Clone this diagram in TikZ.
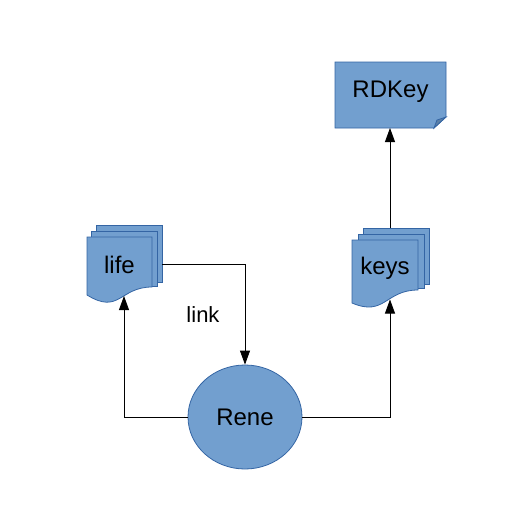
\documentclass[tikz,border=0pt]{standalone}
\usepackage{fontspec}
\setmainfont{Liberation Sans}
\usetikzlibrary{arrows.meta,shapes.geometric,calc}
\definecolor{shfill}{HTML}{729FCF}
\definecolor{shline}{HTML}{3465A4}
\definecolor{shfold}{HTML}{5B7FA6}
\begin{document}
\begin{tikzpicture}[x=1pt,y=-1pt,
  sheet/.style={fill=shfill, draw=shline, line width=0.8pt},
  conn/.style={draw=black, line width=0.8pt, -{Triangle[length=14pt,width=10pt]}},
  lbl/.style={font=\fontsize{24}{28}\selectfont, text=black}]
\useasboundingbox (0,0) rectangle (528,528);
% life multi-document
\path[sheet] (96,225) rectangle (162,282);
\path[sheet] (91.5,231) rectangle (157,286);
\path[sheet] (87,237) -- (152,237) -- (152,287) .. controls (119.5,287) and (119.5,315) .. (87,295) -- cycle;
\node[lbl] (life) at (119.5,265) {life};
% keys multi-document
\path[sheet] (363,228) rectangle (429,284);
\path[sheet] (358,234) rectangle (424,288);
\path[sheet] (352,240) -- (418,240) -- (418,290) .. controls (385,290) and (385,317) .. (352,303) -- cycle;
\node[lbl] (keys) at (385,268) {keys};
% RDKey folded note
\path[sheet] (335,62) -- (446,62) -- (446,117) -- (434,128) -- (335,128) -- cycle;
\path[sheet, fill=shfold] (434,128) -- (437,120) -- (446,117) -- cycle;
\node[lbl] (rdkey) at (390.5,92) {RDKey};
% Rene
\node[ellipse, sheet, minimum width=114pt, minimum height=104pt, inner sep=0pt, lbl] (rene) at (245,417) {Rene};
% anchor coordinates
\coordinate (lifeR) at (162,264);
\coordinate (lifeB) at (124,296);
\coordinate (keysT) at (390,228);
\coordinate (keysB) at (390,299.5);
\coordinate (rdkeyB) at (390,128);
% connectors
\draw[conn] (lifeR) -| (rene.north);
\draw[conn] (rene.west) -| (lifeB);
\draw[conn] (rene.east) -| (keysB);
\draw[conn] (keysT) -- (rdkeyB);
\node[lbl, font=\fontsize{22}{26}\selectfont] (link) at (203,315) {link};
\end{tikzpicture}
\end{document}
